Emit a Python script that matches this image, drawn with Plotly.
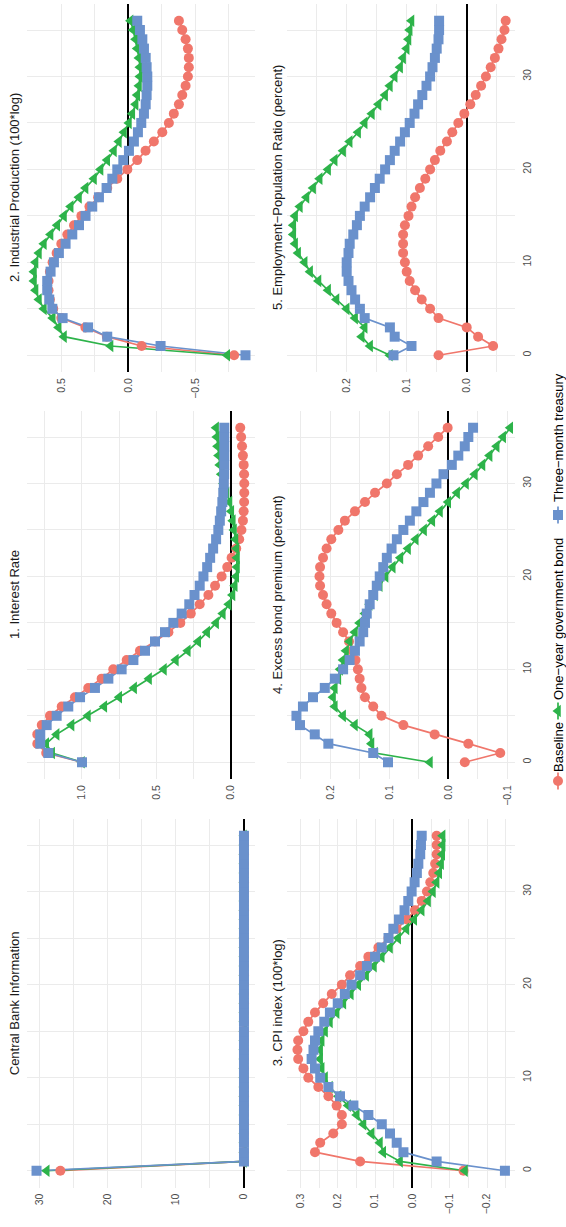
import plotly.graph_objects as go

# ---------------- data ----------------
horizon = list(range(37))

series_names = ["Baseline", "One\u2212year government bond", "Three\u2212month treasury"]
series_colors = ["#F0766B", "#2DB34A", "#6A91CC"]
series_symbols = ["circle", "triangle-left", "square"]
series_sizes = [10, 11, 10]

cb_base = [27.0, 0, 0, 0, 0, 0, 0, 0, 0, 0, 0, 0, 0, 0, 0, 0, 0, 0, 0, 0, 0, 0, 0, 0, 0, 0, 0, 0, 0, 0, 0, 0, 0, 0, 0, 0, 0]
cb_1y = [29.0, 0, 0, 0, 0, 0, 0, 0, 0, 0, 0, 0, 0, 0, 0, 0, 0, 0, 0, 0, 0, 0, 0, 0, 0, 0, 0, 0, 0, 0, 0, 0, 0, 0, 0, 0, 0]
cb_3m = [30.5, 0, 0, 0, 0, 0, 0, 0, 0, 0, 0, 0, 0, 0, 0, 0, 0, 0, 0, 0, 0, 0, 0, 0, 0, 0, 0, 0, 0, 0, 0, 0, 0, 0, 0, 0, 0]

ir_base = [1.00, 1.24, 1.30, 1.30, 1.27, 1.215, 1.136, 1.047, 0.958, 0.868, 0.79, 0.70, 0.611, 0.51, 0.42, 0.34,
           0.27, 0.21, 0.152, 0.107, 0.063, 0.025, -0.004, -0.035, -0.055, -0.07, -0.08, -0.085, -0.088, -0.089,
           -0.089, -0.088, -0.085, -0.08, -0.074, -0.068, -0.062]
ir_1y = [1.00, 1.20, 1.24, 1.17, 1.07, 0.96, 0.85, 0.75, 0.65, 0.55, 0.45, 0.37, 0.29, 0.22, 0.16, 0.10,
         0.055, 0.015, -0.01, -0.025, -0.035, -0.04, -0.04, -0.037, -0.03, -0.02, -0.012, -0.002, 0.01, 0.03,
         0.05, 0.065, 0.075, 0.083, 0.09, 0.095, 0.10]
ir_3m = [1.00, 1.226, 1.28, 1.28, 1.237, 1.17, 1.092, 1.013, 0.913, 0.823, 0.734, 0.655, 0.577, 0.51, 0.443, 0.387,
         0.331, 0.28, 0.245, 0.21, 0.185, 0.16, 0.14, 0.12, 0.10, 0.085, 0.075, 0.066, 0.058, 0.052,
         0.048, 0.046, 0.045, 0.045, 0.045, 0.045, 0.045]

ip_base = [-0.79, -0.10, 0.16, 0.32, 0.50, 0.56, 0.585, 0.595, 0.595, 0.585, 0.565, 0.535, 0.50, 0.455, 0.405, 0.35,
           0.29, 0.225, 0.157, 0.082, 0.007, -0.067, -0.129, -0.191, -0.254, -0.303, -0.34, -0.378, -0.403, -0.428,
           -0.445, -0.452, -0.452, -0.445, -0.428, -0.403, -0.378]
ip_1y = [-0.739, 0.132, 0.48, 0.52, 0.564, 0.63, 0.667, 0.692, 0.704, 0.704, 0.692, 0.667, 0.63, 0.58, 0.53, 0.48,
         0.43, 0.368, 0.319, 0.256, 0.207, 0.157, 0.107, 0.07, 0.032, -0.005, -0.03, -0.055, -0.067, -0.08,
         -0.087, -0.087, -0.08, -0.067, -0.055, -0.037, -0.017]
ip_3m = [-0.875, -0.241, 0.157, 0.30, 0.49, 0.567, 0.59, 0.605, 0.605, 0.58, 0.555, 0.518, 0.468, 0.418, 0.368, 0.319,
         0.269, 0.219, 0.162, 0.119, 0.082, 0.037, -0.005, -0.042, -0.072, -0.097, -0.117, -0.13, -0.137, -0.142,
         -0.142, -0.137, -0.13, -0.117, -0.105, -0.087, -0.067]

cpi_base = [-0.137, 0.14, 0.261, 0.247, 0.212, 0.189, 0.189, 0.203, 0.225, 0.252, 0.279, 0.292, 0.306, 0.308, 0.306,
            0.292, 0.279, 0.261, 0.239, 0.216, 0.189, 0.167, 0.14, 0.118, 0.091, 0.064, 0.042, 0.015, -0.007, -0.025,
            -0.039, -0.048, -0.056, -0.061, -0.065, -0.065, -0.065]
cpi_1y = [-0.141, 0.033, 0.078, 0.087, 0.109, 0.131, 0.149, 0.172, 0.198, 0.221, 0.234, 0.243, 0.247, 0.247, 0.243,
          0.234, 0.221, 0.203, 0.185, 0.165, 0.145, 0.124, 0.103, 0.082, 0.06, 0.038, 0.016, -0.005, -0.025, -0.042,
          -0.055, -0.065, -0.072, -0.077, -0.08, -0.081, -0.081]
cpi_3m = [-0.248, -0.065, 0.024, 0.042, 0.06, 0.082, 0.118, 0.158, 0.194, 0.225, 0.247, 0.261, 0.27, 0.265, 0.261,
          0.252, 0.236, 0.221, 0.2, 0.181, 0.163, 0.14, 0.122, 0.1, 0.082, 0.064, 0.051, 0.036, 0.021, 0.011,
          0.002, -0.006, -0.012, -0.016, -0.021, -0.023, -0.025]

ebp_base = [-0.028, -0.088, -0.034, 0.023, 0.076, 0.113, 0.127, 0.141, 0.147, 0.15, 0.153, 0.157, 0.162, 0.168, 0.178,
            0.189, 0.198, 0.206, 0.212, 0.217, 0.218, 0.217, 0.212, 0.206, 0.198, 0.186, 0.175, 0.158, 0.141, 0.124,
            0.104, 0.087, 0.068, 0.051, 0.034, 0.017, 0.001]
ebp_1y = [0.031, 0.124, 0.13, 0.133, 0.158, 0.178, 0.192, 0.195, 0.192, 0.186, 0.183, 0.178, 0.173, 0.167, 0.158,
          0.15, 0.141, 0.133, 0.124, 0.116, 0.106, 0.094, 0.081, 0.068, 0.055, 0.041, 0.027, 0.014, 0.0, -0.015,
          -0.03, -0.045, -0.058, -0.07, -0.082, -0.093, -0.105]
ebp_3m = [0.102, 0.127, 0.203, 0.226, 0.251, 0.257, 0.246, 0.229, 0.209, 0.192, 0.178, 0.167, 0.158, 0.15, 0.144,
          0.141, 0.138, 0.133, 0.127, 0.121, 0.116, 0.11, 0.104, 0.096, 0.087, 0.076, 0.065, 0.054, 0.042, 0.031,
          0.02, 0.008, -0.006, -0.017, -0.028, -0.034, -0.042]

emp_base = [0.047, -0.044, -0.019, 0.0, 0.047, 0.061, 0.075, 0.086, 0.095, 0.1, 0.103, 0.106, 0.106, 0.106, 0.103,
            0.097, 0.092, 0.086, 0.078, 0.069, 0.061, 0.053, 0.044, 0.033, 0.024, 0.014, 0.004, -0.006, -0.015, -0.024,
            -0.032, -0.04, -0.047, -0.053, -0.058, -0.063, -0.065]
emp_1y = [0.128, 0.161, 0.175, 0.17, 0.186, 0.2, 0.217, 0.231, 0.247, 0.261, 0.27, 0.281, 0.286, 0.289, 0.289,
          0.286, 0.278, 0.267, 0.256, 0.245, 0.231, 0.22, 0.206, 0.195, 0.181, 0.17, 0.158, 0.147, 0.136, 0.128,
          0.12, 0.111, 0.106, 0.1, 0.097, 0.095, 0.092]
emp_3m = [0.122, 0.092, 0.12, 0.128, 0.17, 0.178, 0.186, 0.192, 0.197, 0.2, 0.2, 0.197, 0.195, 0.189, 0.183,
          0.178, 0.17, 0.161, 0.153, 0.145, 0.136, 0.128, 0.12, 0.111, 0.103, 0.095, 0.087, 0.081, 0.074, 0.067,
          0.061, 0.057, 0.053, 0.05, 0.047, 0.046, 0.046]

horizon_ticks = [0, 10, 20, 30]
horizon_labels = ["0", "10", "20", "30"]
horizon_minor = [5, 15, 25, 35]

cb_ticks = [0, 10, 20, 30]
cb_labels = ["0", "10", "20", "30"]
cb_minor = [5, 15, 25]
ir_ticks = [0.0, 0.5, 1.0]
ir_labels = ["0.0", "0.5", "1.0"]
ir_minor = [0.25, 0.75, 1.25]
ip_ticks = [-0.5, 0.0, 0.5]
ip_labels = ["\u22120.5", "0.0", "0.5"]
ip_minor = [-0.75, -0.25, 0.25, 0.75]
cpi_ticks = [-0.2, -0.1, 0.0, 0.1, 0.2, 0.3]
cpi_labels = ["\u22120.2", "\u22120.1", "0.0", "0.1", "0.2", "0.3"]
cpi_minor = [-0.25, -0.15, -0.05, 0.05, 0.15, 0.25]
ebp_ticks = [-0.1, 0.0, 0.1, 0.2]
ebp_labels = ["\u22120.1", "0.0", "0.1", "0.2"]
ebp_minor = [-0.05, 0.05, 0.15, 0.25]
emp_ticks = [0.0, 0.1, 0.2]
emp_labels = ["0.0", "0.1", "0.2"]
emp_minor = [-0.05, 0.05, 0.15, 0.25]

# ---------------- layout geometry ----------------
W, H = 566, 1227
FONT = "Liberation Sans, Arial, Helvetica, sans-serif"
GRID = "#EBEBEB"
col_px = {"L": (27, 255), "R": (287, 515)}
row_px = {"top": (4, 372), "mid": (411, 779), "bot": (819, 1187.5)}
title_x = {"L": 14, "R": 277}

def xdom(c):
    a, b = col_px[c]
    return [a / W, b / W]

def ydom(r):
    a, b = row_px[r]
    return [1 - b / H, 1 - a / H]

panels = [
    dict(title="Central Bank Information", col="L", row="bot", data=(cb_base, cb_1y, cb_3m),
         rng=[31.9, -1.62], ticks=cb_ticks, labels=cb_labels, minor=cb_minor),
    dict(title="1. Interest Rate", col="L", row="mid", data=(ir_base, ir_1y, ir_3m),
         rng=[1.369, -0.161], ticks=ir_ticks, labels=ir_labels, minor=ir_minor),
    dict(title="2. Industrial Production (100*log)", col="L", row="top", data=(ip_base, ip_1y, ip_3m),
         rng=[0.756, -0.946], ticks=ip_ticks, labels=ip_labels, minor=ip_minor),
    dict(title="3. CPI index (100*log)", col="R", row="bot", data=(cpi_base, cpi_1y, cpi_3m),
         rng=[0.336, -0.275], ticks=cpi_ticks, labels=cpi_labels, minor=cpi_minor),
    dict(title="4. Excess bond premium (percent)", col="R", row="mid", data=(ebp_base, ebp_1y, ebp_3m),
         rng=[0.273, -0.113], ticks=ebp_ticks, labels=ebp_labels, minor=ebp_minor),
    dict(title="5. Employment\u2212Population Ratio (percent)", col="R", row="top", data=(emp_base, emp_1y, emp_3m),
         rng=[0.2995, -0.0805], ticks=emp_ticks, labels=emp_labels, minor=emp_minor),
]

fig = go.Figure()
layout_axes = {}
annotations = []

for i, p in enumerate(panels, start=1):
    xa = "x" if i == 1 else f"x{i}"
    ya = "y" if i == 1 else f"y{i}"
    # lines first, then points (ggplot layer order)
    for vals, col in zip(p["data"], series_colors):
        fig.add_trace(go.Scatter(x=vals, y=horizon, mode="lines", xaxis=xa, yaxis=ya,
                                 line=dict(color=col, width=1.7), showlegend=False, hoverinfo="skip"))
    for vals, col, sym, sz in zip(p["data"], series_colors, series_symbols, series_sizes):
        fig.add_trace(go.Scatter(x=vals, y=horizon, mode="markers", xaxis=xa, yaxis=ya,
                                 marker=dict(color=col, symbol=sym, size=sz, line=dict(width=0)),
                                 showlegend=False))
    xkey = "xaxis" if i == 1 else f"xaxis{i}"
    ykey = "yaxis" if i == 1 else f"yaxis{i}"
    layout_axes[xkey] = dict(
        domain=xdom(p["col"]), anchor=ya, range=p["rng"], side="bottom",
        tickmode="array", tickvals=p["ticks"], ticktext=p["labels"], tickangle=-90,
        tickfont=dict(family=FONT, size=10.5, color="#4D4D4D"), ticks="", ticklabelstandoff=3,
        showgrid=True, gridcolor=GRID, gridwidth=1.3,
        minor=dict(tickmode="array", tickvals=p["minor"], showgrid=True, gridcolor=GRID, gridwidth=0.8, ticks=""),
        zeroline=True, zerolinecolor="black", zerolinewidth=2, showline=False, fixedrange=True,
    )
    layout_axes[ykey] = dict(
        domain=ydom(p["row"]), anchor=xa, range=[-1.8, 37.8], side="right",
        tickmode="array", tickvals=horizon_ticks, ticktext=horizon_labels, tickangle=-90,
        showticklabels=(p["col"] == "R"),
        tickfont=dict(family=FONT, size=10.5, color="#4D4D4D"), ticks="", ticklabelstandoff=4,
        showgrid=True, gridcolor=GRID, gridwidth=1.3,
        minor=dict(tickmode="array", tickvals=horizon_minor, showgrid=True, gridcolor=GRID, gridwidth=0.8, ticks=""),
        zeroline=False, showline=False, fixedrange=True,
    )
    yd = ydom(p["row"])
    annotations.append(dict(text=p["title"], xref="paper", yref="paper",
                            x=title_x[p["col"]] / W, y=(yd[0] + yd[1]) / 2,
                            xanchor="center", yanchor="middle", textangle=-90, showarrow=False,
                            font=dict(family=FONT, size=13, color="#1A1A1A")))

# ---------------- legend (rotated, drawn on its own pixel-scaled axis) ----------------
leg_x = 558
leg_key_y = [781, 711, 515]
leg_text_y = [747, 619, 438]
layout_axes["xaxis7"] = dict(domain=[530 / W, 1.0], range=[530, 566], anchor="y7", visible=False, fixedrange=True)
layout_axes["yaxis7"] = dict(domain=[0, 1], range=[H, 0], anchor="x7", visible=False, fixedrange=True)
for name, col, sym, sz, ky, ty in zip(series_names, series_colors, series_symbols, series_sizes, leg_key_y, leg_text_y):
    fig.add_trace(go.Scatter(x=[leg_x, leg_x], y=[ky - 8.5, ky + 8.5], mode="lines", xaxis="x7", yaxis="y7",
                             line=dict(color=col, width=1.7), showlegend=False, hoverinfo="skip"))
    fig.add_trace(go.Scatter(x=[leg_x], y=[ky], mode="markers", xaxis="x7", yaxis="y7",
                             marker=dict(color=col, symbol=sym, size=sz, line=dict(width=0)),
                             showlegend=False, hoverinfo="skip"))
    annotations.append(dict(text=name, xref="x7", yref="y7", x=leg_x, y=ty, xanchor="center", yanchor="middle",
                            textangle=-90, showarrow=False, font=dict(family=FONT, size=13, color="#000000")))

fig.update_layout(
    width=W, height=H, margin=dict(l=0, r=0, t=0, b=0),
    paper_bgcolor="white", plot_bgcolor="white", showlegend=False,
    annotations=annotations, **layout_axes,
)

fig.write_html("out.html")
